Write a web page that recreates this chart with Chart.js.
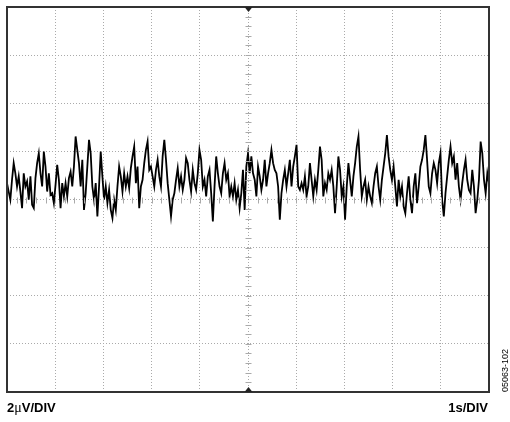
<!DOCTYPE html>
<html>
<head>
<meta charset="utf-8">
<script src="https://cdn.jsdelivr.net/npm/chart.js@4/dist/chart.umd.min.js"></script>
<style>
  html, body { margin: 0; padding: 0; background: #fff; }
  #wrap { width: 510px; height: 422px; }
</style>
</head>
<body>
<div id="wrap"><canvas id="chart" width="510" height="422"></canvas></div>
<script>
// noise trace, microvolts left to right (10 s sweep)
const seg1 = [0.68, 0.33, -0.01, 0.82, 1.51, 1.09, 0.54, 0.96, 0.33, -0.36,
  1.09, 0.54, 0.75, -0.01, 0.96, -0.22, -0.36, 0.89, 1.51, 1.92,
  1.09, 0.54, 1.99, 1.37, 0.33, 1.09, 0.19, 0.26, -0.15, 0.61,
  1.44, 0.82, -0.36, 0.68, 0.13, 0.68, 0.13, 0.89, 1.16, 0.54,
  1.37, 2.62, 2.06, 1.51, 0.54, 1.65, -0.43, 0.26, 1.37, 2.48,
  1.92, 0.54, -0.01, 0.68, -0.70, 0.54, 1.99, 0.96, -0.01, 0.54,
  -0.15, 0.40, -0.43, -0.77, -0.01, -0.43, 0.54, 1.37, 0.96, 0.33,
  1.09, 0.54, 0.96, 0.47];
const seg2 = [1.30, 1.79, 2.20, 0.68, 1.37, -0.36, 0.54, 0.82, 1.51, 2.06,
  2.41, 1.23, 1.37, 0.96, 0.54, 1.23, 1.65, 0.96, 0.54, 1.79,
  2.48, 1.65, 0.68, -0.01, -0.70, -0.01, 0.26, 0.82, 1.30, 0.54,
  0.96, 0.40, 0.82, 1.72, 1.51, 0.82, 0.33, 1.23, 0.68, 0.40,
  1.09, 2.06, 1.65, 0.54, 0.82, 0.13, 0.96, 1.23, 0.26, -0.91,
  0.54, 1.79, 1.09, 0.54, 0.26, 1.09, 1.51, 0.82, 1.09, 0.13,
  0.54, 0.13, 0.68, -0.01, 0.40, -0.36, 0.26, 1.23, -0.43, 1.37,
  1.92, 1.09, 1.79, 1.09];
const seg3 = [0.82, 0.13, 1.37, 0.96, 0.40, 0.82, 1.65, 0.54, 1.09, 1.51,
  2.06, 1.51, 1.23, 1.09, 0.54, -0.84, 0.26, 0.82, 1.23, 0.54,
  1.09, 1.65, 0.54, 1.37, 1.79, 2.27, 0.54, 0.40, 0.68, 0.40,
  0.96, 0.13, 0.54, 1.51, 0.82, 0.13, 0.82, 0.40, 1.23, 2.20,
  1.65, 0.13, 0.68, 0.40, 1.09, 0.82, 1.23, 0.54, -0.57, 0.54,
  1.79, 1.23, 0.13, 0.54, -0.84, 0.54, 1.51, 0.82, 0.13, 0.96,
  1.51, 2.20, 2.62, 1.23, 0.13, 0.54, 0.82, -0.01, 0.54, 0.13,
  -0.15, 0.54, 1.09, 1.37, 0.54, -0.01];
const seg4 = [0.82, 1.37, 1.92, 2.68, 1.79, 1.23, 0.82, 1.37, 0.54, -0.29,
  0.82, 0.13, 0.54, -0.29, -0.57, 0.26, 0.96, -0.01, -0.57, 0.54,
  1.09, -0.15, 0.54, 1.37, 1.65, 2.06, 2.68, 1.65, 0.54, 0.26,
  1.09, 1.51, 1.23, 0.68, 1.51, 1.92, -0.01, -0.70, 0.26, 0.96,
  1.65, 2.20, 1.51, 1.79, 0.82, 1.51, 0.54, -0.01, 0.68, 1.23,
  1.65, 0.82, 0.40, 0.26, 1.23, 0.54, -0.57, -0.01, 0.82, 2.41,
  1.92, 0.82, 0.26, 1.09, 0.68];

const trace = seg1.concat(seg2, seg3, seg4);
const sweep = 10;          // seconds across screen (1 s/div)
const vMin = -8, vMax = 8; // 2 uV/div, 8 divisions
const yLabelParts = ['2', '\u03bc', 'V/DIV'];
const xLabel = '1s/DIV';
const figId = '05063-102';

const pts = trace.map((v, i) => ({ x: i * sweep / (trace.length - 1), y: v }));

// frame, centre graticule ticks, trigger markers and captions
const scopeDeco = {
  id: 'scopeDeco',
  afterDraw(chart) {
    const ctx = chart.ctx;
    const a = chart.chartArea;
    const xs = chart.scales.x, ys = chart.scales.y;
    const cx = Math.round(xs.getPixelForValue(sweep / 2)) + 0.5;
    const cy = Math.round(ys.getPixelForValue(0)) + 0.5;
    ctx.save();
    ctx.strokeStyle = '#aaa';
    ctx.lineWidth = 1;
    ctx.beginPath();
    for (let v = vMin; v <= vMax; v += 0.4) {
      const y = Math.round(ys.getPixelForValue(v)) + 0.5;
      ctx.moveTo(cx - 3, y); ctx.lineTo(cx + 3, y);
    }
    for (let t = 0; t <= sweep; t += 0.2) {
      const x = Math.round(xs.getPixelForValue(t)) + 0.5;
      ctx.moveTo(x, cy - 3); ctx.lineTo(x, cy + 3);
    }
    ctx.stroke();

    ctx.strokeStyle = '#333';
    ctx.lineWidth = 2;
    ctx.strokeRect(a.left, a.top, a.right - a.left, a.bottom - a.top);

    ctx.fillStyle = '#222';
    ctx.beginPath();
    ctx.moveTo(cx - 4, a.top); ctx.lineTo(cx + 4, a.top); ctx.lineTo(cx, a.top + 5);
    ctx.closePath(); ctx.fill();
    ctx.beginPath();
    ctx.moveTo(cx - 4, a.bottom); ctx.lineTo(cx + 4, a.bottom); ctx.lineTo(cx, a.bottom - 5);
    ctx.closePath(); ctx.fill();

    ctx.fillStyle = '#000';
    ctx.textBaseline = 'alphabetic';
    ctx.textAlign = 'left';
    const bold = 'bold 13px "Liberation Sans", Arial, sans-serif';
    const plain = '14px "Liberation Serif", serif';
    let x = a.left;
    yLabelParts.forEach((p, i) => {
      ctx.font = i === 1 ? plain : bold;
      ctx.fillText(p, x, 412);
      x += ctx.measureText(p).width;
    });
    ctx.font = bold;
    ctx.textAlign = 'right';
    ctx.fillText(xLabel, a.right - 1, 412);

    ctx.font = '9px "Liberation Sans", Arial, sans-serif';
    ctx.translate(506, 392);
    ctx.rotate(-Math.PI / 2);
    ctx.textAlign = 'left';
    ctx.textBaseline = 'middle';
    ctx.fillText(figId, 0, 0);
    ctx.restore();
  }
};

new Chart(document.getElementById('chart').getContext('2d'), {
  type: 'line',
  data: {
    datasets: [{
      data: pts,
      borderColor: '#000',
      borderWidth: 1.8,
      pointRadius: 0,
      tension: 0,
      fill: false
    }]
  },
  options: {
    responsive: false,
    animation: false,
    layout: { padding: { left: 7, top: 7, right: 21, bottom: 30 } },
    plugins: { legend: { display: false }, tooltip: { enabled: false } },
    scales: {
      x: {
        type: 'linear', min: 0, max: sweep,
        ticks: { display: false, stepSize: 1 },
        grid: { color: '#aaa', drawTicks: false, lineWidth: 1 },
        border: { display: false, dash: [1, 2] }
      },
      y: {
        min: vMin, max: vMax,
        ticks: { display: false, stepSize: 2 },
        grid: { color: '#aaa', drawTicks: false, lineWidth: 1 },
        border: { display: false, dash: [1, 2] }
      }
    }
  },
  plugins: [scopeDeco]
});
</script>
</body>
</html>
